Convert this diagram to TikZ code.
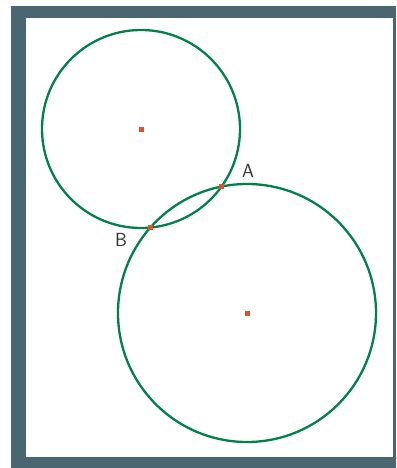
\documentclass[tikz,border=0pt]{standalone}
\usepackage{tikz}
\usetikzlibrary{calc,intersections}
\definecolor{framecol}{HTML}{4A6670}
\definecolor{circcol}{HTML}{00804A}
\definecolor{ptcol}{HTML}{E0502A}

\begin{document}
\begin{tikzpicture}[x=1pt,y=-1pt]
  \useasboundingbox (0,0) rectangle (396,468);
  % frame
  \fill[framecol] (11,6) rectangle (396,468);
  \fill[white] (26,18) rectangle (393,457);
  \coordinate (O1) at (141,129);
  \coordinate (O2) at (247,313);
  \draw[circcol,line width=2.3pt,name path=c1] (O1) circle(99);
  \draw[circcol,line width=2.3pt,name path=c2] (O2) circle(129);
  \path[name intersections={of=c1 and c2,by={P,Q}}];
  \fill[ptcol] ($(O1)+(-2.5,-2.5)$) rectangle ++(5,5);
  \fill[ptcol] ($(O2)+(-2.5,-2.5)$) rectangle ++(5,5);
  \fill[ptcol] ($(P)+(-2.5,-2.5)$) rectangle ++(5,5);
  \fill[ptcol] ($(Q)+(-2.5,-2.5)$) rectangle ++(5,5);
  \node[font=\fontsize{19}{19}\selectfont\sffamily,text=black!80] (A) at (248,171) {A};
  \node[font=\fontsize{19}{19}\selectfont\sffamily,text=black!80] (B) at (121,240) {B};
\end{tikzpicture}
\end{document}
